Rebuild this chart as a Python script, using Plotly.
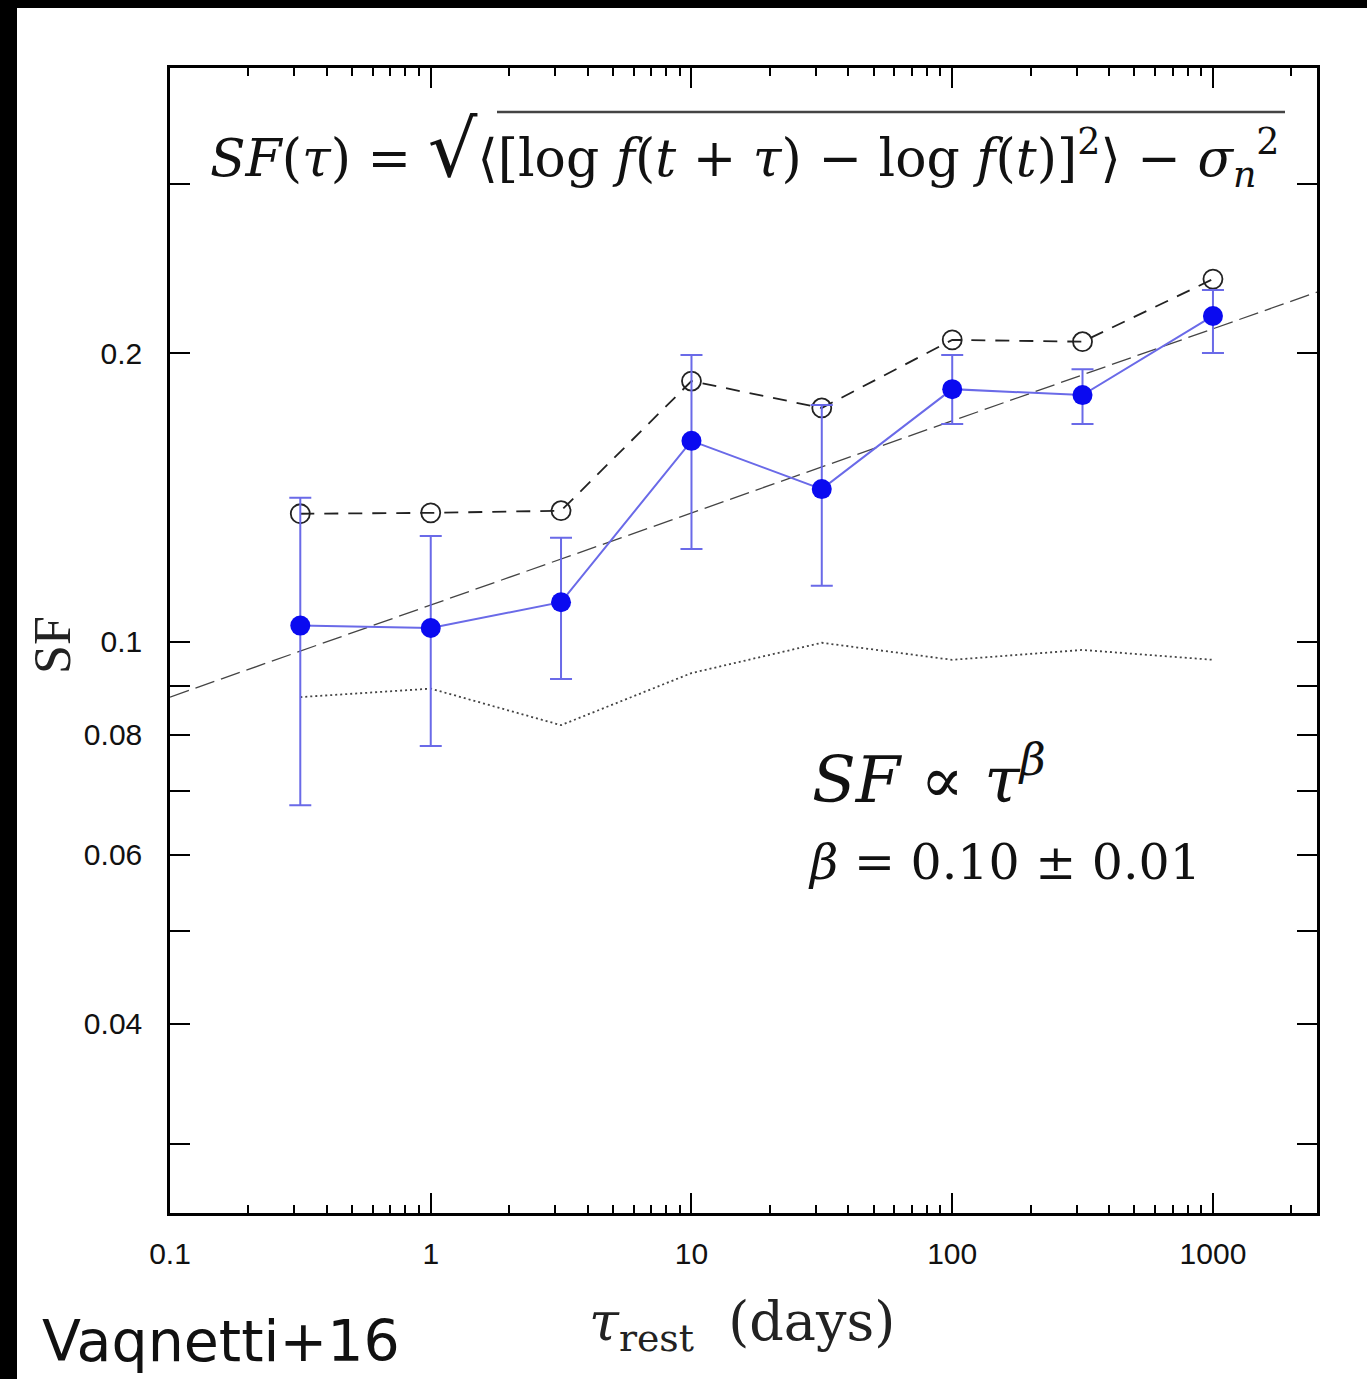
import plotly.graph_objects as go

# ---------------- data ----------------
tau = [0.316, 1, 3.16, 10, 31.6, 100, 316, 1000]
sf_corr = [0.104, 0.1034, 0.110, 0.162, 0.1443, 0.1834, 0.1808, 0.2186]
sf_corr_hi = [0.1413, 0.1289, 0.1284, 0.1991, 0.1765, 0.1991, 0.1924, 0.2326]
sf_corr_lo = [0.0676, 0.0779, 0.0915, 0.125, 0.1144, 0.1687, 0.1687, 0.200]
sf_raw = [0.136, 0.1363, 0.137, 0.187, 0.1753, 0.2064, 0.2055, 0.2388]
sf_noise = [0.0876, 0.0894, 0.0819, 0.0928, 0.0998, 0.0958, 0.0981, 0.0958]
fit_tau = [0.1, 2506]
fit_sf = [0.0876, 0.2315]

x_tickvals = [0.1, 1, 10, 100, 1000]
x_ticktext = ["0.1", "1", "10", "100", "1000"]
x_minor = [m * d for d in [0.1, 1, 10, 100, 1000] for m in range(2, 10) if m * d < 2506]
y_tickvals = [0.03, 0.04, 0.05, 0.06, 0.07, 0.08, 0.09, 0.1, 0.2, 0.3]
y_ticktext = ["", "0.04", "", "0.06", "", "0.08", "", "0.1", "0.2", ""]

# ---------------- geometry helpers ----------------
W, H = 1367, 1379
L, R, T, B = 170, 1317, 68, 1213


def px(x):
    return (x - L) / (R - L)


def py(y):
    return (B - y) / (B - T)


err_plus = [h - v for h, v in zip(sf_corr_hi, sf_corr)]
err_minus = [v - l for v, l in zip(sf_corr, sf_corr_lo)]

fig = go.Figure()

# power-law fit (long dashes)
fig.add_trace(go.Scatter(x=fit_tau, y=fit_sf, mode="lines",
                         line=dict(color="#444444", width=1.3, dash="20px,7px"),
                         showlegend=False, hoverinfo="skip"))
# noise (dotted)
fig.add_trace(go.Scatter(x=tau, y=sf_noise, mode="lines",
                         line=dict(color="#444444", width=1.8, dash="2px,3px"),
                         showlegend=False, hoverinfo="skip"))
# raw SF (open circles, dashed)
fig.add_trace(go.Scatter(x=tau, y=sf_raw, mode="lines+markers",
                         line=dict(color="#222222", width=1.8, dash="14px,10px"),
                         marker=dict(symbol="circle-open", size=19, color="#222222",
                                     line=dict(width=1.8, color="#222222")),
                         showlegend=False))
# corrected SF (filled blue with error bars)
fig.add_trace(go.Scatter(x=tau, y=sf_corr, mode="lines+markers",
                         line=dict(color="#6a6ae8", width=2),
                         marker=dict(symbol="circle", size=20, color="#0a0af0"),
                         error_y=dict(type="data", array=err_plus, arrayminus=err_minus,
                                      symmetric=False, color="#6a6ae8", thickness=2, width=11),
                         showlegend=False))

axis_common = dict(showline=True, linecolor="black", linewidth=2.5, mirror="ticks",
                   ticks="inside", tickcolor="black", tickwidth=1.5, showgrid=False,
                   zeroline=False, tickfont=dict(family="Liberation Sans", size=30, color="#111111"))

fig.update_xaxes(type="log", range=[-1, 3.399], tickvals=x_tickvals, ticktext=x_ticktext,
                 ticklen=20, ticklabelstandoff=12,
                 minor=dict(tickvals=x_minor, ticklen=8, ticks="inside", tickcolor="black",
                            tickwidth=1.5, showgrid=False),
                 **axis_common)
fig.update_yaxes(type="log", range=[-1.595, -0.402], tickvals=y_tickvals, ticktext=y_ticktext,
                 ticklen=20, ticklabelstandoff=19, **axis_common)

annotations = [
    dict(x=px(208), y=py(150), xanchor="left", yanchor="middle",
         text="<i>SF</i>(<i>τ</i>) = <span style=\"font-size:78px\">√</span>⟨[log <i>f</i>(<i>t</i> + <i>τ</i>) − log <i>f</i>(<i>t</i>)]<sup>2</sup>⟩ − <i>σ</i><sub><i>n</i></sub><sup>2</sup>",
         font=dict(family="DejaVu Serif", size=52, color="#111111")),
    dict(x=px(810), y=py(775), xanchor="left", yanchor="middle",
         text="<i>SF</i> ∝ <i>τ</i><sup><i>β</i></sup>",
         font=dict(family="DejaVu Serif", size=64, color="#111111")),
    dict(x=px(806), y=py(862), xanchor="left", yanchor="middle",
         text="<i>β</i> = 0.10 ± 0.01",
         font=dict(family="DejaVu Serif", size=49, color="#111111")),
    dict(x=px(742), y=py(1325), xanchor="center", yanchor="middle",
         text="<i>τ</i><sub>rest</sub>  (days)",
         font=dict(family="DejaVu Serif", size=54, color="#222222")),
    dict(x=px(52), y=py(645), xanchor="center", yanchor="middle", textangle=-90,
         text="SF", font=dict(family="Liberation Serif", size=52, color="#222222")),
    dict(x=px(40), y=py(1341), xanchor="left", yanchor="middle",
         text="Vaqnetti+16", font=dict(family="DejaVu Sans", size=57, color="#111111")),
]
for a in annotations:
    a.update(xref="paper", yref="paper", showarrow=False)

shapes = [
    # white page on black border
    dict(type="rect", xref="paper", yref="paper", x0=px(17), x1=px(W + 5), y0=py(H + 5), y1=py(8),
         fillcolor="white", line=dict(width=0), layer="below"),
    # radical overline
    dict(type="line", xref="paper", yref="paper", x0=px(497), x1=px(1285), y0=py(112), y1=py(112),
         line=dict(color="#444444", width=2.5)),
]

fig.update_layout(width=W, height=H, margin=dict(l=L, r=W - R, t=T, b=H - B),
                  paper_bgcolor="black", plot_bgcolor="white",
                  annotations=annotations, shapes=shapes)

fig.write_html("out.html", config={"displayModeBar": False},
               post_script="document.body.style.margin='0';document.body.style.background='black';")
